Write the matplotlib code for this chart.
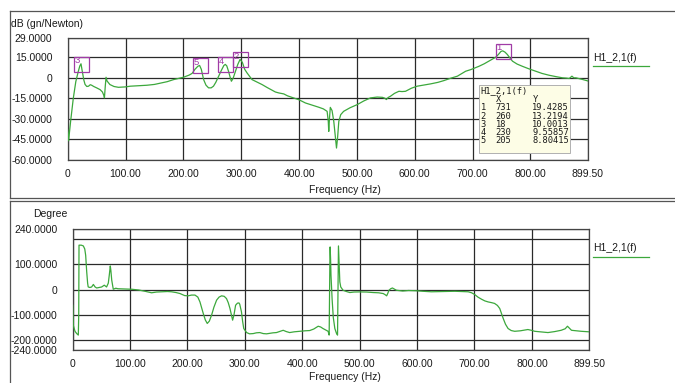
# -*- coding: utf-8 -*-
# frf_plot.py  -  magnitude / phase of H1_2,1(f)

import matplotlib
matplotlib.use("Agg")
import matplotlib.pyplot as plt
from matplotlib.lines import Line2D
from matplotlib.patches import Rectangle

# magnitude in dB (gn/Newton) over frequency in Hz
mag_freq = [0, 1.5, 5, 9.7, 14, 18, 21, 23, 25, 28, 30, 33, 36, 39, 41.5, 45, 50, 56, 60,
            62.5, 63.5, 65, 66.3, 68, 73, 80, 87.7, 100, 108, 120, 137, 150, 160, 172,
            183, 200, 210, 215, 220, 225, 228, 231, 235, 239, 243.5, 248, 252, 256, 261,
            266, 270, 272.5, 275, 278, 281, 283, 286, 290, 294, 298, 302, 306, 310,
            318.7, 326, 336, 345, 359, 365, 373.5, 380, 393.7, 400, 411, 420, 434, 442,
            448.5, 450.5, 451.3, 452.5, 454, 457, 460, 463, 464.7, 466.5, 468.7, 472,
            477, 488, 500.5, 512, 523.5, 535, 544, 548, 551, 554, 558, 565, 572.6, 578,
            584, 594, 604, 615, 627.5, 640, 650.5, 662, 673.7, 688, 697, 711, 720, 728,
            735, 740, 745, 749, 752, 756, 760, 765, 769, 777, 786, 797, 809, 820, 832,
            845, 855.5, 862, 867, 871.7, 875, 878.6, 890, 899.5]
mag_db = [-38, -46, -32, -15, -3, 4, 8.5, 10.0013, 5, -2, -5, -6.5, -6.3, -5.2, -5.6, -6.5,
          -7.5, -8.8, -10.5, -13, -14.8, -6, 0.2, -2.5, -5.1, -6.5, -7.1, -6.8, -6.3, -6.0,
          -5.6, -5.0, -4.1, -3.0, -1.5, 0.2, 1.8, 3, 6, 8.2, 8.80415, 6, -1.5, -5.5, -7.5,
          -7.5, -6.3, -3.5, 1, 5.5, 8.8, 9.55857, 8.5, 4.6, 0, -2.7, -0.5, 4.6, 9.5,
          13.2194, 11, 6, 3.4, -1.5, -3, -5.1, -7.3, -10.5, -11.2, -11.9, -13.3, -15.3,
          -16.2, -18.5, -19.7, -21.6, -22.8, -24.6, -32, -39.2, -30, -21.7, -24, -31.9,
          -44, -51.3, -44, -31.9, -27, -24.6, -22, -19.7, -17, -14.8, -14.2, -14.4, -15,
          -16, -14.5, -13.6, -11.5, -10, -10.2, -10, -7.8, -6.3, -5.5, -4.6, -3.5, -2.2,
          -0.5, 1, 4.6, 5.8, 8.2, 10, 11.9, 13.5, 14.8, 17, 19, 19.4285, 18.5, 16.8, 14,
          11.9, 9.8, 8.2, 6.4, 4.6, 3, 1.7, 0.6, -0.2, -0.4, -0.7, 1, -0.2, -0.2, -1.4,
          -2.5]

# phase in degree over frequency in Hz
ph_freq = [0, 1, 4, 7, 9.8, 10.5, 11, 15, 18.5, 21, 22.6, 24.4, 26, 27, 30, 33, 36, 39,
           41.8, 46, 50.5, 55, 59, 62, 63.7, 65.5, 66.5, 68, 70.7, 75, 79, 90, 102.7, 115,
           126, 137.5, 146, 155, 165, 172, 180, 187, 195, 201, 207, 213, 218, 221.7, 225,
           227.5, 231, 234.4, 238, 242, 246, 250.7, 255, 259.4, 264, 268, 271, 274, 276.5,
           278.6, 281, 283.8, 287, 289.6, 291, 294, 296, 298, 303, 308, 314.5, 320, 326,
           332, 337.8, 343, 349, 355, 360, 366.7, 372, 378, 386, 395.8, 405, 413, 420,
           427.7, 432, 436, 441, 445, 446.8, 448, 448.5, 449.3, 450, 452, 454, 456.7,
           459.7, 461.4, 462.2, 463, 464, 465.4, 467, 471, 477, 482.8, 490, 500, 512,
           523.5, 533, 541, 544, 547, 549, 551, 554, 557, 560, 564, 575, 585, 599, 610,
           625, 645, 665.7, 680, 689, 695, 700.5, 706, 712, 718, 723.7, 730, 735, 740,
           744, 747, 750, 754, 758.5, 764, 770, 780, 793, 799, 805, 815, 828, 840, 851,
           858, 862, 866, 869, 878, 886, 899.5]
ph_deg = [-62, -141, -165, -174, -180, -100, 175, 175, 172, 160, 135, 70, 25, 10, 8, 10,
          20, 10, 6, 8, 10, 17, 10, 25, 56, 93, 75, 37, 1, 5, 3, 2, 1, -2, -7, -13, -10,
          -9, -8, -9, -12, -16, -24, -25, -22, -22, -30, -49, -75, -95, -120, -134, -125,
          -101, -70, -42, -30, -25, -27, -36, -52, -75, -100, -121, -100, -62, -54, -53,
          -58, -88, -125, -154, -170, -175, -174, -171, -170, -174, -175, -173, -171,
          -170, -166, -161, -166, -170, -167, -165, -163, -162, -156, -145, -148, -154,
          -160, -165, -180, 100, 168, 120, 56, -40, -110, -154, -174, -180, 0, 172, 110,
          30, 10, -3, -8, -12, -10, -9.5, -10, -12, -13, -16, -20, -25, -15, -3, 3, 6, 2,
          -3, -6, -4, -5, -7, -9, -8, -7, -8, -9, -13, -20, -30, -38, -45, -49, -52, -55,
          -63, -75, -95, -114, -137, -154, -162, -165, -163, -158, -161, -165, -167,
          -170, -166, -161, -155, -145, -154, -161, -163, -165, -167]

# peak markers: number, frequency on plot, level from marker table
peak_no = [1, 2, 3, 4, 5]
peak_freq = [752, 298, 23, 272.5, 228]
peak_db = [19.4285, 13.2194, 10.0013, 9.55857, 8.80415]
# marker table entries (X column as listed)
table_x = ["731", "260", "18", "230", "205"]
table_y = ["19.4285", "13.2194", "10.0013", "9.55857", "8.80415"]

mag_ticks = [29, 15, 0, -15, -30, -45, -60]
mag_ticklabels = ["29.0000", "15.0000", "0", "-15.0000", "-30.0000", "-45.0000", "-60.0000"]
ph_ticks = [240, 200, 100, 0, -100, -200, -240]
ph_ticklabels = ["240.0000", "", "100.0000", "0", "-100.0000", "-200.0000", "-240.0000"]
f_ticks = [0, 100, 200, 300, 400, 500, 600, 700, 800, 899.5]
f_ticklabels = ["0", "100.00", "200.00", "300.00", "400.00", "500.00", "600.00",
                "700.00", "800.00", "899.50"]

W, H = 675, 383
GREEN = "#3ca83c"
PURPLE = "#a03ca6"
GRID = "#2a2a2a"
TXT = "#1a1a1a"
plt.rcParams["font.family"] = ["Liberation Sans", "DejaVu Sans"]


def fx(x):
    return x / W


def fy(y):
    return 1 - y / H


def rect(l, t, r, b):
    return [fx(l), fy(b), (r - l) / W, (b - t) / H]


def style_axes(ax, yticks, ylabels, ylim):
    ax.set_xlim(0, 899.5)
    ax.set_ylim(*ylim)
    ax.set_xticks(f_ticks)
    ax.set_xticklabels(f_ticklabels)
    ax.set_yticks(yticks)
    ax.set_yticklabels(ylabels)
    ax.tick_params(length=0, labelsize=7.5, labelcolor=TXT)
    ax.tick_params(axis="x", pad=6.5)
    ax.tick_params(axis="y", pad=11)
    ax.grid(True, color=GRID, lw=0.9)
    for s in ax.spines.values():
        s.set_color("#444444")
        s.set_linewidth(0.9)


fig = plt.figure(figsize=(W / 100, H / 100), dpi=100)

# panel frames
for seg in [((10, 11), (675, 11)), ((10, 11), (10, 198)), ((10, 198), (675, 198)),
            ((10, 201), (675, 201)), ((10, 201), (10, 383))]:
    (x0, y0), (x1, y1) = seg
    fig.add_artist(Line2D([fx(x0), fx(x1)], [fy(y0), fy(y1)], color="#555555", lw=0.9))

# magnitude
ax1 = fig.add_axes(rect(67.7, 37.7, 588, 160))
style_axes(ax1, mag_ticks, mag_ticklabels, (-60, 29))
ax1.plot(mag_freq, mag_db, color=GREEN, lw=0.9, zorder=3)
for n, f, y in zip(peak_no, peak_freq, peak_db):
    ax1.plot(f, y, "s", ms=10.8, mfc="none", mec=PURPLE, mew=0.9, zorder=4)
    ax1.annotate(str(n), (f, y), xytext=(-4.6, 5.4), textcoords="offset points",
                 ha="left", va="top", fontsize=6.8, color=PURPLE, zorder=5)

fig.text(fx(11), fy(24), "dB (gn/Newton)", fontsize=7.5, color=TXT, va="center")
fig.text(fx(345), fy(190), "Frequency (Hz)", fontsize=7.5, color=TXT,
         ha="center", va="center")

# marker table
fig.add_artist(Rectangle((fx(478.5), fy(153.5)), (569.5 - 478.5) / W, (153.5 - 85.5) / H,
                         transform=fig.transFigure, facecolor="#fdfde6",
                         edgecolor="#b0b0b0", lw=0.7, zorder=5))
mono = dict(family="DejaVu Sans Mono", fontsize=6.3, color=TXT, va="center", zorder=6)
fig.text(fx(480), fy(91), "H1_2,1(f)", **mono)
fig.text(fx(495.5), fy(99.5), "X", **mono)
fig.text(fx(532.5), fy(99.5), "Y", **mono)
for i in range(len(table_x)):
    row_y = fy(107.8 + i * 8.3)
    fig.text(fx(480.5), row_y, str(peak_no[i]), **mono)
    fig.text(fx(495.5), row_y, table_x[i], **mono)
    fig.text(fx(532.3), row_y, table_y[i], **mono)

# phase
ax2 = fig.add_axes(rect(72.7, 228.7, 589, 350.3))
style_axes(ax2, ph_ticks, ph_ticklabels, (-240, 240))
ax2.plot(ph_freq, ph_deg, color=GREEN, lw=0.9, zorder=3)
fig.text(fx(50), fy(214), "Degree", fontsize=7.5, color=TXT, ha="center", va="center")
fig.text(fx(345), fy(377.5), "Frequency (Hz)", fontsize=7.5, color=TXT,
         ha="center", va="center")

# legends
for ty, ly in [(57.7, 66), (248.3, 256.7)]:
    fig.text(fx(593), fy(ty), "H1_2,1(f)", fontsize=7.5, color=TXT, va="center")
    fig.add_artist(Line2D([fx(593), fx(649)], [fy(ly), fy(ly)], color=GREEN, lw=0.9))

fig.savefig("out.png", dpi=100)
